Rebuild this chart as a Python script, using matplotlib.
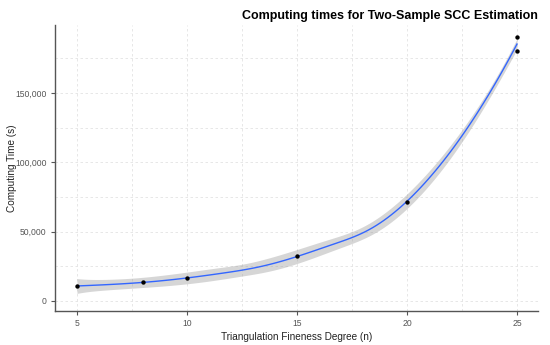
import math
import numpy as np
import matplotlib
matplotlib.use("Agg")
import matplotlib.pyplot as plt
from matplotlib.ticker import FuncFormatter, MultipleLocator

plt.rcParams['font.family'] = ['Liberation Sans', 'DejaVu Sans']

# Data
fineness = [5, 8, 10, 15, 20, 25, 25]
times = [10800, 13900, 16300, 32500, 71500, 180500, 190000]
x_ticks = [5, 10, 15, 20, 25]
y_ticks = [0, 50000, 100000, 150000]
title = "Computing times for Two-Sample SCC Estimation"
xlabel = "Triangulation Fineness Degree (n)"
ylabel = "Computing Time (s)"

BW = 2.9      # kernel bandwidth of the local quadratic smoother
SE_MULT = 1.0  # width of the confidence band in standard errors


def local_weights(xs, x0, bw=BW):
    n = len(xs)
    w = np.exp(-0.5 * ((xs - x0) / bw) ** 2)
    X = np.vstack([np.ones(n), xs - x0, (xs - x0) ** 2]).T
    W = np.diag(w)
    A = X.T @ W @ X
    return (np.linalg.solve(A, X.T @ W))[0]


xs = np.array(fineness, dtype=float)
ys = np.array(times, dtype=float)
n = len(xs)
L = np.array([local_weights(xs, x0) for x0 in xs])
IL = np.eye(n) - L
d1 = np.trace(IL.T @ IL)
resid = ys - L @ ys
sigma = math.sqrt(np.sum(resid ** 2) / d1)

grid = np.linspace(xs.min(), xs.max(), 120)
Lg = np.array([local_weights(xs, x0) for x0 in grid])
fit = Lg @ ys
se = sigma * np.sqrt(np.sum(Lg ** 2, axis=1))

fig = plt.figure(figsize=(5.5, 3.45), dpi=100)
ax = fig.add_axes([0.1, 0.0986, 0.878, 0.829])

ax.fill_between(grid, fit - SE_MULT * se, fit + SE_MULT * se, color='#999999', alpha=0.4, lw=0, zorder=2)
ax.plot(grid, fit, color='#3366FF', lw=1.0, zorder=3)
ax.scatter(xs, ys, s=10, color='black', zorder=4, linewidths=0)

ax.set_xlim(4.0, 25.95)
ax.set_ylim(-7200, 199000)
ax.set_xticks(x_ticks)
ax.set_yticks(y_ticks)
ax.xaxis.set_minor_locator(MultipleLocator(2.5))
ax.yaxis.set_minor_locator(MultipleLocator(25000))
ax.yaxis.set_major_formatter(FuncFormatter(lambda v, p: f"{int(v):,}"))

ax.grid(True, which='both', color='#E3E3E3', linestyle=(0, (3, 3)), lw=0.6, zorder=0)
ax.set_axisbelow(True)
for s in ['top', 'right']:
    ax.spines[s].set_visible(False)
for s in ['left', 'bottom']:
    ax.spines[s].set_color('#555555')
    ax.spines[s].set_linewidth(1.0)
ax.tick_params(which='major', length=3, width=0.8, color='#555555', labelsize=6.2, labelcolor='#555555', pad=3)
ax.tick_params(which='minor', length=0)

ax.set_xlabel(xlabel, fontsize=7.2, color='#222222', labelpad=3)
ax.set_ylabel(ylabel, fontsize=7.2, color='#222222')
ax.yaxis.set_label_coords(-0.079, 0.5)
fig.text(0.978, 0.935, title, ha='right', va='bottom', fontsize=9, fontweight='bold')

fig.savefig("out.png", dpi=100)
